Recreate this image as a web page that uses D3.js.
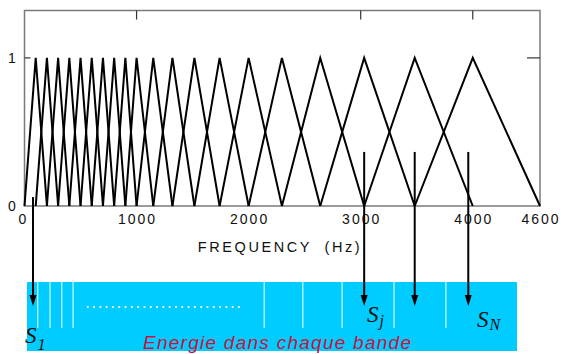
<!DOCTYPE html>
<html>
<head>
<meta charset="utf-8">
<script src="https://cdn.jsdelivr.net/npm/d3@7"></script>
<style>
  body { margin: 0; background: #fff; }
  svg { display: block; }
  .tick-label { font-family: "Liberation Sans", Arial, sans-serif; font-size: 14px; letter-spacing: 2px; fill: #111; }
  .axis-title { font-family: "Liberation Sans", Arial, sans-serif; font-size: 14.5px; letter-spacing: 2.6px; word-spacing: 6px; fill: #111; }
  .s-label { font-family: "Liberation Serif", "Times New Roman", serif; font-style: italic; fill: #111; }
</style>
</head>
<body>
<div id="graphic"></div>
<script>
// filter centre frequencies (Hz) of the triangular filter bank
const centres = [100, 200, 300, 400, 500, 600, 700, 800, 900, 1000,
                 1149, 1320, 1516, 1741, 2000, 2297, 2639, 3031, 3482, 4000];
const freqMin = 0, freqMax = 4600;
const xTicks = [0, 1000, 2000, 3000, 4000, 4600];
const topTicks = [1000, 3000, 4000];
const yTicks = [0, 1];

// arrows from the filters down to the energy bar
const arrowFreqs = [76, 3031, 3482, 3960];
const arrowTops = [0.06, 0.365, 0.365, 0.365];
const arrowLabels = [{s: "S", sub: "1"}, {s: "S", sub: "j"}, null, {s: "S", sub: "N"}];

// energy bar: band separators in % of bar width, dotted run
const bandBreaks = [2.2, 4.7, 7.1, 9.4, 48.4, 56.3, 64.3, 74.9, 85.5];
const dotRun = [12.4, 44.5];
const barText = "Energie dans chaque bande";

// build triangles [lo, centre, hi]
const filters = centres.map((c, i) => [
  i === 0 ? freqMin : centres[i - 1],
  c,
  i === centres.length - 1 ? freqMax : centres[i + 1]
]);

const W = 561, H = 354;
const svg = d3.select('#graphic').append('svg')
  .attr('width', W).attr('height', H);

const x = d3.scaleLinear().domain([freqMin, freqMax]).range([24.5, 540]);
const y = d3.scaleLinear().domain([0, 1.32]).range([206, 10.5]);

// frame
svg.append('rect')
  .attr('x', x(freqMin)).attr('y', y(1.32))
  .attr('width', x(freqMax) - x(freqMin)).attr('height', y(0) - y(1.32))
  .attr('fill', 'none').attr('stroke', '#7a7a7a').attr('stroke-width', 1.5);

// inward ticks
svg.append('g').selectAll('line').data(topTicks).join('line')
  .attr('x1', d => x(d)).attr('x2', d => x(d))
  .attr('y1', y(1.32)).attr('y2', y(1.32) + 9)
  .attr('stroke', '#333').attr('stroke-width', 1.2);

svg.append('g').selectAll('line').data([freqMin, freqMax]).join('line')
  .attr('x1', d => x(d)).attr('x2', (d, i) => x(d) + (i ? -13 : 6))
  .attr('y1', y(1)).attr('y2', y(1))
  .attr('stroke', '#333').attr('stroke-width', 1.2);

// tick labels
svg.append('g').selectAll('text').data(xTicks).join('text')
  .attr('class', 'tick-label')
  .attr('x', (d, i) => i ? x(d) + 1 : x(d) - 1).attr('y', 224)
  .attr('text-anchor', 'middle')
  .text(d => d);

svg.append('g').selectAll('text').data(yTicks).join('text')
  .attr('class', 'tick-label')
  .attr('x', 13).attr('y', d => y(d) + 5)
  .attr('text-anchor', 'middle')
  .text(d => d);

svg.append('text').attr('class', 'axis-title')
  .attr('x', 280).attr('y', 252)
  .attr('text-anchor', 'middle')
  .text('FREQUENCY (Hz)');

// triangles
const line = d3.line().x(d => x(d[0])).y(d => y(d[1]));
svg.append('g').selectAll('path').data(filters).join('path')
  .attr('d', f => line([[f[0], 0], [f[1], 1], [f[2], 0]]))
  .attr('fill', 'none').attr('stroke', '#000')
  .attr('stroke-width', 2).attr('stroke-linejoin', 'miter');

// energy bar
const barY = 282, barH = 69;
const bx = d3.scaleLinear().domain([0, 100]).range([27, 517]);
svg.append('rect')
  .attr('x', bx(0)).attr('y', barY)
  .attr('width', bx(100) - bx(0)).attr('height', barH)
  .attr('fill', '#00ccff');

svg.append('g').selectAll('line').data(bandBreaks).join('line')
  .attr('x1', d => bx(d)).attr('x2', d => bx(d))
  .attr('y1', barY).attr('y2', 328)
  .attr('stroke', '#fff').attr('stroke-width', 1);

svg.append('line')
  .attr('x1', bx(dotRun[0])).attr('x2', bx(dotRun[1]))
  .attr('y1', 307).attr('y2', 307)
  .attr('stroke', '#fff').attr('stroke-width', 2.2)
  .attr('stroke-linecap', 'round').attr('stroke-dasharray', '0 6.3');

svg.append('text')
  .attr('x', 143).attr('y', 349)
  .attr('textLength', 268)
  .style('font-family', '"Liberation Sans", Arial, sans-serif')
  .style('font-style', 'italic').style('font-size', '19px')
  .attr('fill', '#cc1040')
  .text(barText);

// arrows
const arrows = svg.append('g');
arrowFreqs.forEach((f, i) => {
  const ax = x(f);
  arrows.append('line')
    .attr('x1', ax).attr('x2', ax)
    .attr('y1', y(arrowTops[i])).attr('y2', 297)
    .attr('stroke', '#000').attr('stroke-width', 2);
  arrows.append('path')
    .attr('d', `M${ax - 3.5},295 L${ax + 3.5},295 L${ax},306 Z`)
    .attr('fill', '#000');
});

// S labels, subscript as tspan
const labelPos = [[25, 343, 7], [367, 322, 4], null, [477, 327, 3]];
arrowLabels.forEach((l, i) => {
  if (!l) return;
  const p = labelPos[i];
  const t = svg.append('text').attr('class', 's-label')
    .attr('x', p[0]).attr('y', p[1]).style('font-size', '23px');
  t.append('tspan').text(l.s);
  t.append('tspan').attr('dx', 1).attr('dy', p[2])
    .style('font-size', '16px').text(l.sub);
});
</script>
</body>
</html>
